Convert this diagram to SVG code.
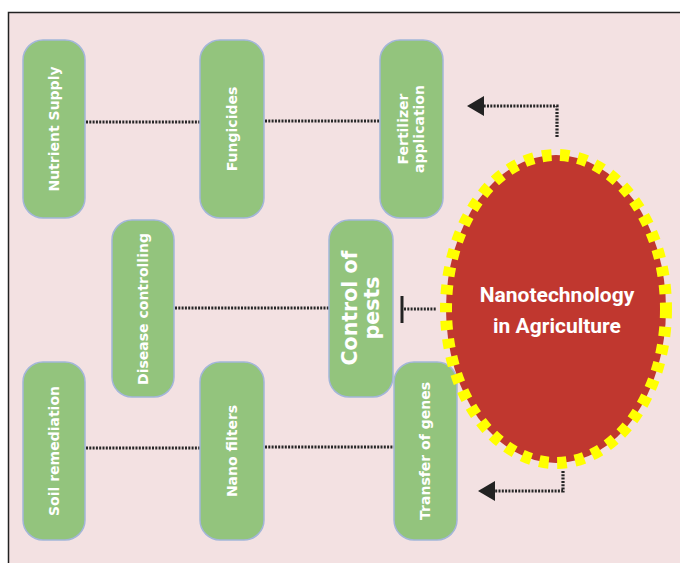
<svg xmlns="http://www.w3.org/2000/svg" width="680" height="563" viewBox="0 0 680 563">
  <style>
    .box { fill: #93c47d; stroke: #a3b6d9; stroke-width: 1.5; }
    .lbl { fill: #ffffff; font-family: "DejaVu Sans", "Liberation Sans", sans-serif; font-weight: bold; font-size: 14px; text-anchor: middle; }
    .big { font-size: 20.5px; }
    .dot { fill: none; stroke: #262626; stroke-width: 3.2; stroke-dasharray: 2 1.3; }
    .hub { fill: #c0372f; stroke: #ffff00; stroke-width: 12; stroke-dasharray: 9.5 8.5; }
    .hubtxt { fill: #ffffff; font-family: Roboto, "Liberation Sans", sans-serif; font-weight: bold; font-size: 21px; text-anchor: middle; }
  </style>

  <!-- page and frame -->
  <rect x="0" y="0" width="680" height="563" fill="#ffffff"/>
  <rect x="8.5" y="12.5" width="672" height="551" fill="#f3e1e2"/>
  <path d="M8.5,563 V12.5 H680" fill="none" stroke="#222" stroke-width="1.5"/>

  <!-- connectors -->
  <g id="connectors">
    <path class="dot" d="M86,122 H200"/>
    <path class="dot" d="M265,121 H380"/>
    <path class="dot" d="M175,308 H329"/>
    <path class="dot" d="M86,448 H200"/>
    <path class="dot" d="M265,447 H394"/>
    <!-- hub to control of pests (blunt end) -->
    <path class="dot" d="M404,309 H436"/>
    <path d="M402,296 V323" stroke="#222" stroke-width="3"/>
    <!-- hub to fertilizer application -->
    <path class="dot" d="M557,137 V106 H484"/>
    <path d="M467,106 L484,96 L484,116 Z" fill="#222"/>
    <!-- hub to transfer of genes -->
    <path class="dot" d="M563,471 V491 H495"/>
    <path d="M478,491 L495,481 L495,501 Z" fill="#222"/>
  </g>

  <g id="nutrient-supply">
    <rect class="box" x="23" y="40" width="62" height="178" rx="20"/>
    <text class="lbl" transform="translate(54,129) rotate(-90)" x="0" y="5">Nutrient Supply</text>
  </g>
  <g id="fungicides">
    <rect class="box" x="200" y="40" width="64" height="178" rx="20"/>
    <text class="lbl" transform="translate(232,129) rotate(-90)" x="0" y="5">Fungicides</text>
  </g>
  <g id="fertilizer-application">
    <rect class="box" x="380" y="40" width="63" height="178" rx="20"/>
    <text class="lbl" transform="translate(411,129) rotate(-90)" x="0" y="-3">Fertilizer</text>
    <text class="lbl" transform="translate(411,129) rotate(-90)" x="0" y="13">application</text>
  </g>
  <g id="disease-controlling">
    <rect class="box" x="112" y="220" width="62" height="177" rx="20"/>
    <text class="lbl" transform="translate(143,309) rotate(-90)" x="0" y="5">Disease controlling</text>
  </g>
  <g id="control-of-pests">
    <rect class="box" x="329" y="220" width="64" height="177" rx="20"/>
    <text class="lbl big" transform="translate(361,308) rotate(-90)" x="0" y="-4">Control of</text>
    <text class="lbl big" transform="translate(361,308) rotate(-90)" x="0" y="18">pests</text>
  </g>
  <g id="soil-remediation">
    <rect class="box" x="23" y="362" width="62" height="178" rx="20"/>
    <text class="lbl" transform="translate(54,451) rotate(-90)" x="0" y="5">Soil remediation</text>
  </g>
  <g id="nano-filters">
    <rect class="box" x="200" y="362" width="64" height="178" rx="20"/>
    <text class="lbl" transform="translate(232,451) rotate(-90)" x="0" y="5">Nano filters</text>
  </g>
  <g id="transfer-of-genes">
    <rect class="box" x="394" y="362" width="63" height="178" rx="20"/>
    <text class="lbl" transform="translate(425,451) rotate(-90)" x="0" y="5">Transfer of genes</text>
  </g>

  <g id="nanotechnology-hub">
    <ellipse class="hub" cx="556" cy="309" rx="110" ry="154"/>
    <text class="hubtxt" x="557" y="302">Nanotechnology</text>
    <text class="hubtxt" x="557" y="333">in Agriculture</text>
  </g>
</svg>
